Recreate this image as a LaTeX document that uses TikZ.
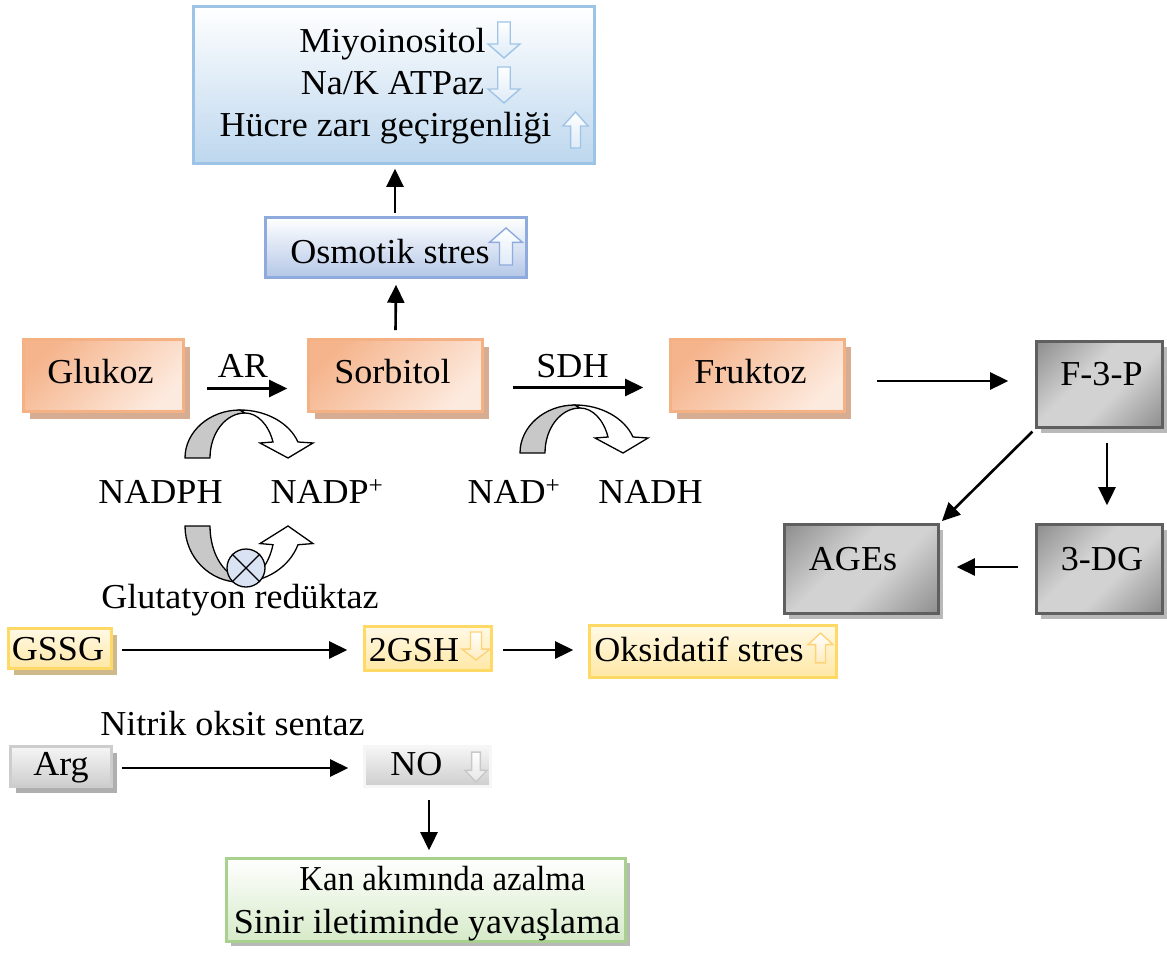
\documentclass[tikz,border=0pt]{standalone}
\usepackage{fontspec}
\setmainfont{Liberation Serif}[FakeStretch=1.03]
\usetikzlibrary{arrows.meta,shadows}

\definecolor{orEdge}{RGB}{244,177,131}
\definecolor{orDark}{RGB}{245,180,140}
\definecolor{orLight}{RGB}{253,234,222}
\definecolor{orShadow}{RGB}{214,172,146}
\definecolor{gyEdge}{RGB}{95,95,95}
\definecolor{gyDark}{RGB}{105,105,105}
\definecolor{gyMid}{RGB}{160,160,160}
\definecolor{gyLight}{RGB}{210,210,210}
\definecolor{gyShadow}{RGB}{185,185,185}
\definecolor{blEdge}{RGB}{157,195,230}
\definecolor{blFill}{RGB}{189,215,238}
\definecolor{osEdge}{RGB}{143,170,220}
\definecolor{osFill}{RGB}{180,199,231}
\definecolor{yeEdge}{RGB}{255,217,102}
\definecolor{yeTop}{RGB}{255,249,230}
\definecolor{yeBot}{RGB}{255,232,165}
\definecolor{yeShadow}{RGB}{205,185,140}
\definecolor{lgEdge}{RGB}{205,205,205}
\definecolor{lgTop}{RGB}{246,246,246}
\definecolor{lgBot}{RGB}{205,205,205}
\definecolor{lgShadow}{RGB}{175,175,175}
\definecolor{grEdge}{RGB}{169,209,142}
\definecolor{grFill}{RGB}{214,234,200}
\definecolor{curvGray}{RGB}{200,200,200}
\definecolor{enzFill}{RGB}{218,227,243}
\definecolor{upBlue}{RGB}{160,196,230}
\definecolor{upBlueFill}{RGB}{222,235,247}
\definecolor{upYellow}{RGB}{255,210,120}
\definecolor{upYellowFill}{RGB}{255,236,190}
\definecolor{upGray}{RGB}{200,200,200}
\definecolor{upGrayFill}{RGB}{230,230,230}

% soft metallic band for the dark product boxes
\pgfdeclareverticalshading{gyband}{100bp}{color(0bp)=(gyDark); color(22bp)=(gyMid);
  color(42bp)=(gyLight); color(58bp)=(gyLight); color(78bp)=(gyMid); color(100bp)=(gyDark)}

\tikzset{
  % curved cofactor arrow: grey back half, white front half with head
  pics/cofactor/.style={code={
    \filldraw[fill=curvGray, draw=black, line width=1.3pt, line join=round]
      (-55,0) arc[start angle=180, end angle=270, x radius=55, y radius=48]
      -- (5,-45) arc[start angle=270, end angle=180, x radius=35, y radius=45] -- cycle;
    \filldraw[fill=white, draw=black, line width=1.3pt, line join=miter]
      (0,-48) arc[start angle=270, end angle=340.5, x radius=61.5, y radius=48]
      -- (73,-15) -- (48,0) -- (20,-15) -- (33,-16)
      arc[start angle=339.2, end angle=270, x radius=30, y radius=45] -- cycle;
  }},
  % small hollow block arrow (points down; flip with a negative yscale)
  pics/blk/.style 2 args={code={
    \path[draw=#1, top color=white, bottom color=#2, line width=1.4pt, line join=miter]
      (-5.5,-18) -- (5.5,-18) -- (5.5,4) -- (14,4) -- (0,18) -- (-14,4) -- (-5.5,4) -- cycle;
  }}
}

\begin{document}
\begin{tikzpicture}[x=1pt, y=-1pt,
  every node/.style={font=\fontsize{35}{42}\selectfont, inner sep=0pt},
  txt/.style={anchor=base},
  boxbase/.style={rectangle, line width=2.6pt},
  orbox/.style={boxbase, draw=orEdge, top color=orDark, bottom color=orLight, shading angle=45,
    general shadow={fill=orShadow, opacity=1, shadow xshift=6pt, shadow yshift=-7pt}},
  gybox/.style={boxbase, draw=gyEdge, shading=gyband, shading angle=45,
    general shadow={fill=gyShadow, opacity=1, shadow xshift=4pt, shadow yshift=-5pt}},
  bluebox/.style={boxbase, draw=blEdge, top color=white, bottom color=blFill},
  osbox/.style={boxbase, draw=osEdge, top color=white, bottom color=osFill},
  yebox/.style={boxbase, draw=yeEdge, top color=yeTop, bottom color=yeBot},
  yeshadow/.style={general shadow={fill=yeShadow, opacity=1, shadow xshift=5pt, shadow yshift=-6pt}},
  lgbox/.style={boxbase, draw=lgEdge, top color=lgTop, bottom color=lgBot},
  lgshadow/.style={general shadow={fill=lgShadow, opacity=1, shadow xshift=5pt, shadow yshift=-6pt}},
  grbox/.style={boxbase, draw=grEdge, top color=white, bottom color=grFill,
    general shadow={fill=gyShadow, opacity=1, shadow xshift=4pt, shadow yshift=-4pt}},
  arr/.style={-{Triangle[length=18pt, width=17pt]}, line width=2.6pt},
]
\useasboundingbox (0,0) rectangle (1167,955);
\fill[white] (0,0) rectangle (1167,955);

% ---------- boxes ----------
\node[bluebox, minimum width=401pt, minimum height=157pt] (top) at (394,85) {};
\node[osbox, minimum width=261pt, minimum height=60pt] (osm) at (396,247.5) {};
\node[orbox, minimum width=160pt, minimum height=72pt] (glu) at (103.5,375.5) {};
\node[orbox, minimum width=174pt, minimum height=72pt] (sorb) at (395.5,375.5) {};
\node[orbox, minimum width=174pt, minimum height=72pt] (fru) at (757.5,375.5) {};
\node[gybox, minimum width=126pt, minimum height=86pt] (f3p) at (1099.5,384.5) {};
\node[gybox, minimum width=126pt, minimum height=89pt] (dg) at (1099.5,569) {};
\node[gybox, minimum width=154pt, minimum height=89pt] (ages) at (861.5,569) {};
\node[yebox, yeshadow, minimum width=103pt, minimum height=40pt] (gssg) at (60,648.5) {};
\node[yebox, minimum width=127pt, minimum height=44pt] (gsh) at (428,648.5) {};
\node[yebox, minimum width=247pt, minimum height=52pt] (oks) at (713,651.5) {};
\node[lgbox, lgshadow, minimum width=101pt, minimum height=40pt] (arg) at (61,766.5) {};
\node[lgbox, draw=lgTop, minimum width=126pt, minimum height=40pt] (no) at (427.5,766.5) {};
\node[grbox, minimum width=399pt, minimum height=83pt] (kan) at (426,900) {};

% ---------- texts ----------
\node[txt] (t1) at (392.5,53) {Miyoinositol};
\node[txt] (t2) at (392.5,95) {Na/K ATPaz};
\node[txt] (t3) at (385.5,137) {Hücre zarı geçirgenliği};
\node[txt] (osmT) at (390,263) {Osmotik stres};
\node[txt] (gluT) at (100.5,383) {Glukoz};
\node[txt] (sorbT) at (392.5,383) {Sorbitol};
\node[txt] (fruT) at (750.5,383) {Fruktoz};
\node[txt] (arT) at (243,377) {AR};
\node[txt] (sdhT) at (572.5,377) {SDH};
\node[txt] (f3pT) at (1101.5,385) {F-3-P};
\node[txt] (dgT) at (1102,570) {3-DG};
\node[txt] (agesT) at (853,570) {AGEs};
\node[txt] (nadph) at (160.5,503) {NADPH};
\node[txt] (nadp) at (327,503) {NADP\textsuperscript{+}};
\node[txt] (nad) at (514,503) {NAD\textsuperscript{+}};
\node[txt] (nadh) at (650.5,503) {NADH};
\node[txt] (grT) at (240,608) {Glutatyon redüktaz};
\node[txt] (gssgT) at (58,660) {GSSG};
\node[txt] (gshT) at (414,661) {2GSH};
\node[txt] (oksT) at (699,661) {Oksidatif stres};
\node[txt] (nosT) at (232.5,735) {Nitrik oksit sentaz};
\node[txt] (argT) at (61,775) {Arg};
\node[txt] (noT) at (416.5,775) {NO};
\node[txt] (kan1) at (442.5,890) {\scalebox{0.91}[1]{Kan akımında azalma}};
\node[txt] (kan2) at (427,933) {Sinir iletiminde yavaşlama};

% ---------- up / down indicators ----------
\pic[xscale=1.14] at (504,40) {blk={upBlue}{upBlueFill}};
\pic[xscale=1.14] at (504,85) {blk={upBlue}{upBlueFill}};
\pic[xscale=0.9, yscale=-1] at (575.5,130) {blk={upBlue}{upBlueFill}};
\pic[xscale=1.18, yscale=-1.03] at (506,246.5) {blk={osEdge}{upBlueFill}};
\pic[xscale=1, yscale=0.78] at (476,646) {blk={upYellow}{upYellowFill}};
\pic[xscale=0.9, yscale=-0.83] at (820.5,648) {blk={upYellow}{upYellowFill}};
\pic[xscale=0.79, yscale=0.83] at (476,767) {blk={upGray}{upGrayFill}};

% ---------- cofactor arrows ----------
\pic at (240,458) {cofactor};
\pic at (575,453) {cofactor};
\pic[yscale=-1.17] at (240,526) {cofactor};
\node[circle, draw=black, fill=enzFill, line width=1.3pt, minimum size=38pt] (enz) at (246,568) {};
\draw[line width=1.3pt] (enz.north west) -- (enz.south east);
\draw[line width=1.3pt] (enz.north east) -- (enz.south west);

% ---------- connectors ----------
\draw[arr] ([yshift=8pt]sorb.north) -- ([yshift=-6pt]osm.south);
\draw[arr] ([xshift=-1pt,yshift=3pt]osm.north) -- ([xshift=1pt,yshift=-4pt]top.south);
\draw[arr] ([xshift=22pt,yshift=-13pt]glu.east) -- ([xshift=-20pt,yshift=-13pt]sorb.west);
\draw[arr] ([xshift=29pt,yshift=-12pt]sorb.east) -- ([xshift=-26pt,yshift=-12pt]fru.west);
\draw[arr] ([xshift=31pt,yshift=-5.5pt]fru.east) -- ([xshift=-27pt,yshift=3.5pt]f3p.west);
\draw[arr] ([xshift=7.5pt,yshift=-14pt]f3p.south) -- ([xshift=7.5pt,yshift=18pt]dg.north);
\draw[arr, shorten <=4pt, shorten >=3pt] (f3p.south west) -- (ages.north east);
\draw[arr] ([xshift=-17pt,yshift=2pt]dg.west) -- ([xshift=17pt,yshift=2pt]ages.east);
\draw[arr] ([xshift=9pt,yshift=-1.5pt]gssg.east) -- ([xshift=-16pt,yshift=-1.5pt]gsh.west);
\draw[arr] ([xshift=10pt,yshift=-1.5pt]gsh.east) -- ([xshift=-15pt,yshift=1.5pt]oks.west);
\draw[arr] ([xshift=9pt,yshift=-1.5pt]arg.east) -- ([xshift=-15pt,yshift=-1.5pt]no.west);
\draw[arr] ([xshift=1.5pt,yshift=-12pt]no.south) -- ([xshift=3pt,yshift=7pt]kan.north);
\end{tikzpicture}
\end{document}
